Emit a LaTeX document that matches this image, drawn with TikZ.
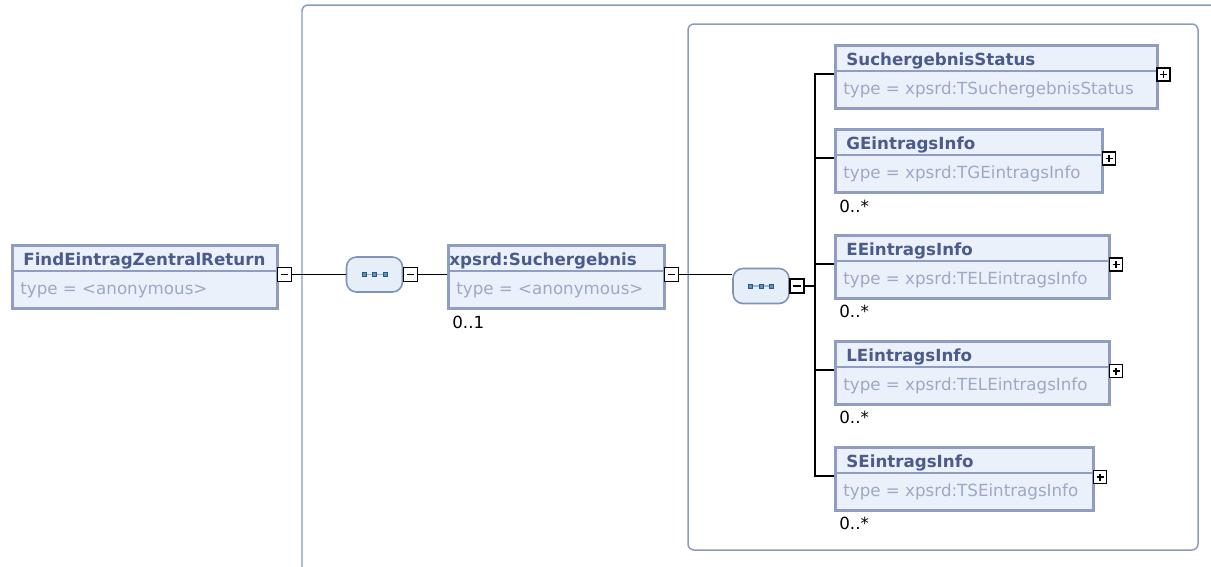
\documentclass[tikz,border=0pt]{standalone}
\usepackage{fontspec}
\setmainfont{DejaVu Sans}
\usepackage{xcolor}
\usepackage{tikz}

\definecolor{boxborder}{HTML}{8E9DC1}
\definecolor{boxfill}{HTML}{EBF1FB}
\definecolor{titleblue}{HTML}{4A5B8C}
\definecolor{typegrey}{HTML}{9DA8C5}
\definecolor{frameblue}{HTML}{8A9BBE}
\definecolor{seqfill}{HTML}{E6EEF8}
\definecolor{seqborder}{HTML}{7D93B7}
\definecolor{dotblue}{HTML}{3F7FB5}

\begin{document}
\begin{tikzpicture}[x=0.02cm, y=-0.02cm,
    elem/.style={draw=boxborder, fill=boxfill, line width=1.7pt, minimum height=1.26cm, anchor=north west, inner sep=0pt},
    divider/.style={draw=boxborder, line width=0.8pt},
    title/.style={anchor=base west, inner sep=0pt, text=titleblue, font=\fontsize{9.5}{11}\selectfont\bfseries},
    typetext/.style={anchor=base west, inner sep=0pt, text=typegrey, font=\fontsize{9.5}{11}\selectfont},
    multi/.style={anchor=base west, inner sep=0pt, font=\fontsize{9.5}{11}\selectfont},
    frame/.style={draw=frameblue, line width=0.85pt, rounded corners=0.12cm},
    conn/.style={draw=black, line width=1pt},
    seq/.style={draw=seqborder, fill=seqfill, line width=0.9pt, rounded corners=0.2cm, minimum width=1.12cm, minimum height=0.7cm, inner sep=0pt,
        path picture={
            \draw[sharp corners, dotblue!55, line width=0.9pt] ([xshift=-0.21cm]path picture bounding box.center) -- ([xshift=0.21cm]path picture bounding box.center);
            \foreach \dx in {-0.21,0,0.21}
                \filldraw[sharp corners, fill=dotblue!85, draw=dotblue!70!black, line width=0.3pt] ([xshift=\dx cm]path picture bounding box.center) +(-0.037cm,-0.037cm) rectangle +(0.037cm,0.037cm);
        }},
    toggle/.style={draw=black, fill=white, line width=1pt, minimum size=0.28cm, inner sep=0pt},
    minusbox/.style={toggle,
        path picture={\draw[line width=1.1pt] ([xshift=-0.075cm]path picture bounding box.center) -- ([xshift=0.075cm]path picture bounding box.center);}},
    plusbox/.style={toggle, minimum size=0.26cm,
        path picture={\draw[line width=1.1pt] ([xshift=-0.07cm]path picture bounding box.center) -- ([xshift=0.07cm]path picture bounding box.center);
                      \draw[line width=1.1pt] ([yshift=-0.07cm]path picture bounding box.center) -- ([yshift=0.07cm]path picture bounding box.center);}}]

    \useasboundingbox (0,0) rectangle (1211,566);

    % Frames of the two sequences
    \draw[frame] (302,5) rectangle (1400,700);
    \draw[frame] (688,24) rectangle (1198,550);

    % Root element
    \node[elem, minimum width=5.3cm] (root) at (11,244) {};
    \draw[divider] (11,271) -- (276,271);
    \node[title] (rootname) at (23,265) {FindEintragZentralReturn};
    \node[typetext] (roottype) at (20,294) {type = <anonymous>};
    \node[minusbox] (m1) at (284.5,274.5) {};

    % First sequence
    \node[seq] (seq1) at (374.5,274.5) {};
    \node[minusbox] (m2) at (410.5,274.5) {};

    % Suchergebnis
    \node[elem, minimum width=4.32cm] (erg) at (447,244) {};
    \draw[divider] (447,271) -- (663,271);
    \node[title] (ergname) at (449,265) {xpsrd:Suchergebnis};
    \node[typetext] (ergtype) at (456,294) {type = <anonymous>};
    \node[multi] (ergmult) at (452,328) {0..1};
    \node[minusbox] (m3) at (671.5,274.5) {};

    % Second sequence
    \node[seq] (seq2) at (761,286) {};
    \node[minusbox] (m4) at (797,286) {};
    \coordinate (trunk) at (815,286);

    % Connectors
    \draw[conn] (m1) -- (seq1);
    \draw[conn] (m2) -- (m2 -| erg.west);
    \draw[conn] (m3) -- (m3 -| seq2.west);
    \draw[conn] (m4) -- (trunk);

    % Children of the second sequence
    \foreach \n/\ytop/\w/\lbl/\typ in {
        status/44/6.44/SuchergebnisStatus/TSuchergebnisStatus,
        ginfo/128/5.34/GEintragsInfo/TGEintragsInfo,
        einfo/234/5.48/EEintragsInfo/TELEintragsInfo,
        linfo/340/5.48/LEintragsInfo/TELEintragsInfo,
        sinfo/446/5.16/SEintragsInfo/TSEintragsInfo} {
        \draw[conn] (trunk) |- (834,\ytop+30);
        \node[elem, minimum width=\w cm] (\n) at (834,\ytop) {};
        \draw[divider] (834,\ytop+27) -- ++(\w cm,0);
        \node[title] (\n-name) at (846,\ytop+21) {\lbl};
        \node[typetext] (\n-type) at (843,\ytop+50) {type = xpsrd:\typ};
    }

    % Expand boxes
    \foreach \n/\x/\y in {status/1163.5/74.5, ginfo/1109/158.5, einfo/1116/264.5, linfo/1116/371, sinfo/1100/477} {
        \node[plusbox] (\n-plus) at (\x,\y) {};
    }

    % Multiplicities
    \foreach \n/\y in {ginfo/212, einfo/317.5, linfo/423.5, sinfo/529.5} {
        \node[multi] (\n-mult) at (839,\y) {0..*};
    }
\end{tikzpicture}
\end{document}
